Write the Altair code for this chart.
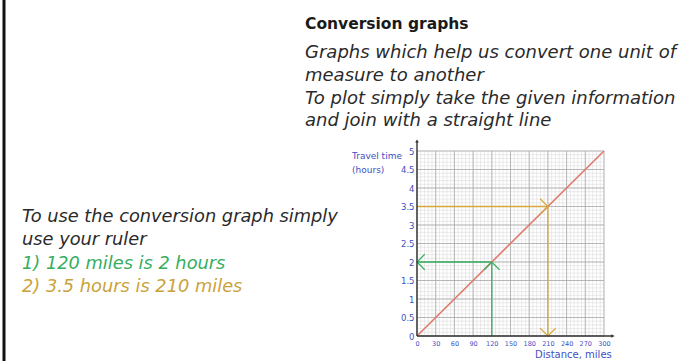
import altair as alt
import pandas as pd

# Conversion line: distance (miles) against travel time (hours)
distance_miles = [0, 300]
travel_hours = [0, 5]

# Axis tick labels
x_tick_values = [0, 30, 60, 90, 120, 150, 180, 210, 240, 270, 300]
y_tick_values = [0, 0.5, 1, 1.5, 2, 2.5, 3, 3.5, 4, 4.5, 5]

# Worked examples: 120 miles -> 2 hours, 3.5 hours -> 210 miles
example_miles = [120, 210]
example_hours = [2, 3.5]
example_colors = ["#35ad5f", "#d6a93a"]

# Graph paper grid
minor_x = [i * 6 for i in range(51)]
minor_y = [i * 0.1 for i in range(51)]

W, H = 187, 185
OX, OY = 417, 151  # plot origin inside the page

blue = "#3e4fc2"

xs = alt.Scale(domain=[0, 300], nice=False)
ys = alt.Scale(domain=[0, 5], nice=False)
x_axis = alt.Axis(values=x_tick_values, grid=False, ticks=False, domain=False,
                  labelColor=blue, labelFontSize=6.5, labelPadding=4,
                  labelFont="DejaVu Sans", labelFlush=False, title=None)
y_axis = alt.Axis(values=y_tick_values, grid=False, ticks=False, domain=False,
                  format=".1~f",
                  labelColor=blue, labelFontSize=8.5, labelPadding=3,
                  labelFont="DejaVu Sans", labelFlush=False, title=None)


def X(field):
    return alt.X(field, scale=xs, axis=x_axis)


def Y(field):
    return alt.Y(field, scale=ys, axis=y_axis)


grid_minor_v = alt.Chart(pd.DataFrame({"x": minor_x})).mark_rule(
    color="#dcdcdc", strokeWidth=0.6).encode(x=X("x:Q"))
grid_minor_h = alt.Chart(pd.DataFrame({"y": minor_y})).mark_rule(
    color="#dcdcdc", strokeWidth=0.6).encode(y=Y("y:Q"))
grid_major_v = alt.Chart(pd.DataFrame({"x": x_tick_values})).mark_rule(
    color="#a9a9a9", strokeWidth=0.8).encode(x=X("x:Q"))
grid_major_h = alt.Chart(pd.DataFrame({"y": y_tick_values})).mark_rule(
    color="#a9a9a9", strokeWidth=0.8).encode(y=Y("y:Q"))

# Axis lines with arrow tips
anchor = pd.DataFrame({"k": [0]})
y_axis_line = alt.Chart(anchor).mark_rule(color="#333333", strokeWidth=1.4).encode(
    x=alt.value(0), y=alt.value(H), y2=alt.value(-10))
x_axis_line = alt.Chart(anchor).mark_rule(color="#333333", strokeWidth=1.4).encode(
    x=alt.value(0), x2=alt.value(W + 8), y=alt.value(H))
y_axis_tip = alt.Chart(anchor).mark_point(
    shape="triangle-up", filled=True, color="#333333", size=14, opacity=1).encode(
    x=alt.value(0), y=alt.value(-10))
x_axis_tip = alt.Chart(anchor).mark_point(
    shape="triangle-right", filled=True, color="#333333", size=14, opacity=1).encode(
    x=alt.value(W + 9), y=alt.value(H))

# Conversion line
line = alt.Chart(pd.DataFrame({"x": distance_miles, "y": travel_hours})).mark_line(
    color="#e07a6c", strokeWidth=1.6).encode(x=X("x:Q"), y=Y("y:Q"))

# Reading-off arrows
seg = pd.DataFrame({
    "x": [example_miles[0], 0, 0, example_miles[1]],
    "x2": [example_miles[0], example_miles[0], example_miles[1], example_miles[1]],
    "y": [0, example_hours[0], example_hours[1], 0],
    "y2": [example_hours[0], example_hours[0], example_hours[1], example_hours[1]],
    "c": [example_colors[0], example_colors[0], example_colors[1], example_colors[1]],
})
segments = alt.Chart(seg).mark_rule(strokeWidth=1.3).encode(
    x=X("x:Q"), x2="x2:Q", y=Y("y:Q"), y2="y2:Q",
    color=alt.Color("c:N", scale=None))

heads = pd.DataFrame({
    "x": [example_miles[0], 0, example_miles[1], example_miles[1]],
    "y": [example_hours[0], example_hours[0], example_hours[1], 0],
    "a": [0, 270, 90, 180],
    "c": [example_colors[0], example_colors[0], example_colors[1], example_colors[1]],
})
arrow_heads = alt.Chart(heads).mark_point(
    shape="M-1,1L0,0L1,1", filled=False, size=240, strokeWidth=1.2, opacity=1).encode(
    x=X("x:Q"), y=Y("y:Q"),
    angle=alt.Angle("a:Q", scale=None),
    color=alt.Color("c:N", scale=None))


def text_at(t, px, py, size, color, weight="normal", style="normal",
            font="DejaVu Sans", align="left"):
    return alt.Chart(pd.DataFrame({"t": [t]})).mark_text(
        align=align, baseline="alphabetic", fontSize=size, color=color,
        fontWeight=weight, fontStyle=style, font=font).encode(
        text="t:N", x=alt.value(px - OX), y=alt.value(py - OY))


body = "#2a2a2a"
texts = [
    text_at("Travel time", 352, 159, 9, blue),
    text_at("(hours)", 352, 173, 9, blue),
    text_at("Distance, miles", 535, 358, 10, blue),
    text_at("Conversion graphs", 305, 29, 15.5, "#1a1a1a", weight="bold"),
    text_at("Graphs which help us convert one unit of", 305, 58, 18, body, style="italic"),
    text_at("measure to another", 305, 81, 18, body, style="italic"),
    text_at("To plot simply take the given information", 305, 104, 18, body, style="italic"),
    text_at("and join with a straight line", 305, 126, 18, body, style="italic"),
    text_at("To use the conversion graph simply", 22, 222, 17.8, body, style="italic"),
    text_at("use your ruler", 22, 245, 17.8, body, style="italic"),
    text_at("1) 120 miles is 2 hours", 22, 269, 17.8, example_colors[0], style="italic"),
    text_at("2) 3.5 hours is 210 miles", 22, 292, 17.8, "#c9a23a", style="italic"),
]

# Page frame on the left
frame = alt.Chart(anchor).mark_rule(color="#111111", strokeWidth=3).encode(
    x=alt.value(4 - OX), y=alt.value(-OY), y2=alt.value(361 - OY))

chart = alt.layer(
    grid_minor_v, grid_minor_h, grid_major_v, grid_major_h,
    segments, line, arrow_heads,
    y_axis_line, x_axis_line, y_axis_tip, x_axis_tip,
    frame, *texts,
).properties(
    width=W, height=H,
    autosize=alt.AutoSizeParams(type="none"),
    padding={"left": OX, "top": OY, "right": 687 - OX - W, "bottom": 361 - OY - H},
    background="white",
).configure_view(stroke=None)

chart.save("out.html", embed_options={"renderer": "svg", "actions": False})
